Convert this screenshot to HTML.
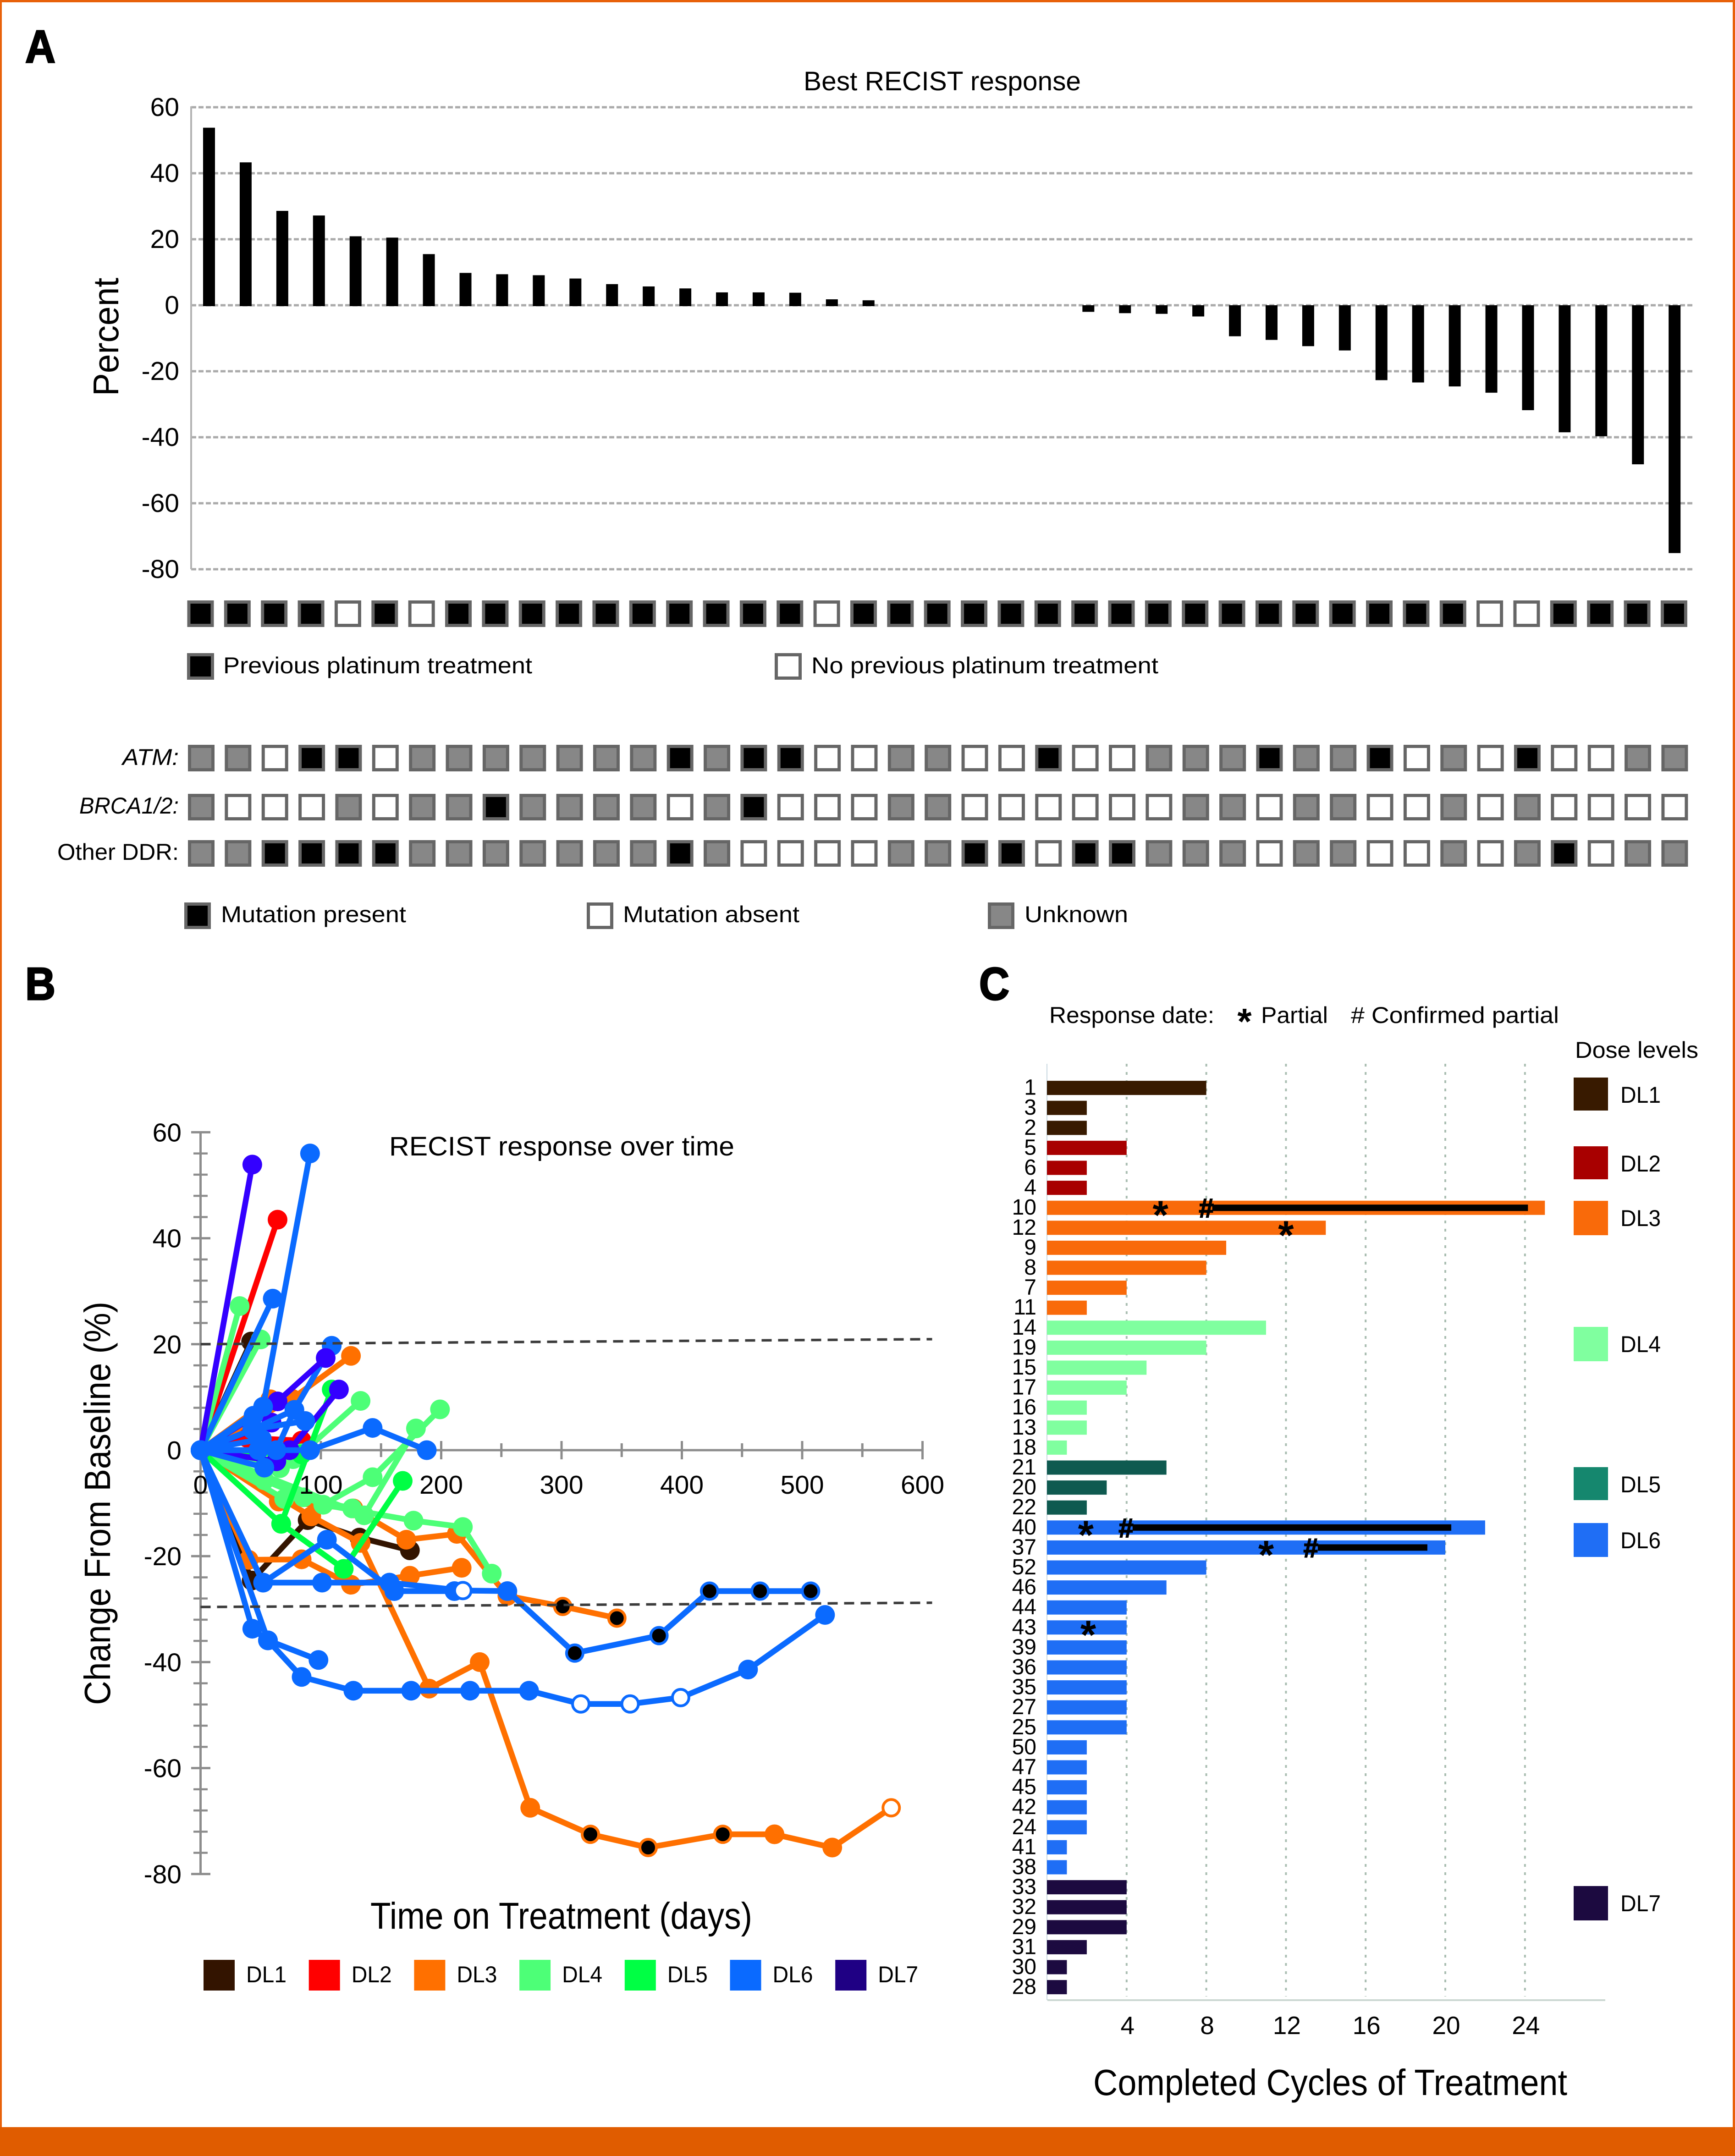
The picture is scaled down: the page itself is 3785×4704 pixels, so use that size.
<!DOCTYPE html>
<html lang="en">
<head>
<meta charset="utf-8">
<title>RECIST response chart</title>
<style>
html,body{margin:0;padding:0;background:#fff;}
svg{display:block;font-family:"Liberation Sans",sans-serif;}
text{fill:#000;}
.box{stroke:#666;stroke-width:7;}
.panel{stroke:#000;stroke-width:3;}
</style>
</head>
<body>
<svg id="fig" xmlns="http://www.w3.org/2000/svg" width="3785" height="4704" viewBox="0 0 3785 4704">
  <rect x="0" y="0" width="3785" height="4704" fill="#fff"/>
  <rect x="0" y="0" width="3785" height="5" fill="#e8610a"/>
  <rect x="0" y="0" width="4" height="4704" fill="#e8610a"/>
  <rect x="3780" y="0" width="5" height="4704" fill="#e8610a"/>
  <rect x="0" y="4641" width="3785" height="63" fill="#e05c00"/>

  <text class="panel" x="55" y="136" font-size="100" font-weight="bold" textLength="66" lengthAdjust="spacingAndGlyphs">A</text>
  <text class="panel" x="55" y="2181" font-size="100" font-weight="bold" textLength="66" lengthAdjust="spacingAndGlyphs">B</text>
  <text class="panel" x="2136" y="2181" font-size="100" font-weight="bold" textLength="66" lengthAdjust="spacingAndGlyphs">C</text>

  <text x="1753" y="197" font-size="58" textLength="605" lengthAdjust="spacingAndGlyphs">Best RECIST response</text>
  <text transform="translate(258,735) rotate(-90)" text-anchor="middle" font-size="78" textLength="258" lengthAdjust="spacingAndGlyphs">Percent</text>

  <g id="a-grid"></g>
  <g id="a-bars"></g>
  <g id="a-matrix"></g>

  <rect class="box" x="411.5" y="1428.5" width="52" height="51" fill="#000"/>
  <text x="487" y="1469" font-size="50" textLength="674" lengthAdjust="spacingAndGlyphs">Previous platinum treatment</text>
  <rect class="box" x="1693.5" y="1428.5" width="52" height="51" fill="#fff"/>
  <text x="1770" y="1469" font-size="50" textLength="757" lengthAdjust="spacingAndGlyphs">No previous platinum treatment</text>

  <text x="267" y="1669" font-size="50" font-style="italic" textLength="123" lengthAdjust="spacingAndGlyphs">ATM:</text>
  <text x="173" y="1775" font-size="50" font-style="italic" textLength="217" lengthAdjust="spacingAndGlyphs">BRCA1/2:</text>
  <text x="125" y="1876" font-size="50" textLength="265" lengthAdjust="spacingAndGlyphs">Other DDR:</text>

  <rect class="box" x="405.5" y="1972.5" width="51" height="51" fill="#000"/>
  <text x="482" y="2012" font-size="50" textLength="404" lengthAdjust="spacingAndGlyphs">Mutation present</text>
  <rect class="box" x="1283.5" y="1972.5" width="51" height="51" fill="#fff"/>
  <text x="1359" y="2012" font-size="50" textLength="385" lengthAdjust="spacingAndGlyphs">Mutation absent</text>
  <rect class="box" x="2158.5" y="1972.5" width="51" height="51" fill="#878787"/>
  <text x="2235" y="2012" font-size="50" textLength="226" lengthAdjust="spacingAndGlyphs">Unknown</text>

  <text x="849" y="2521" font-size="58" textLength="753" lengthAdjust="spacingAndGlyphs">RECIST response over time</text>
  <text transform="translate(240,3280) rotate(-90)" text-anchor="middle" font-size="80" textLength="880" lengthAdjust="spacingAndGlyphs">Change From Baseline (%)</text>
  <text x="808" y="4208" font-size="82" textLength="833" lengthAdjust="spacingAndGlyphs">Time on Treatment (days)</text>
  <g id="b-axes"></g>
  <g id="b-series"></g>
  <g id="b-refs"></g>
  <g id="b-labels"></g>
  <g id="b-legend"></g>

  <text x="2289" y="2232" font-size="50" textLength="360" lengthAdjust="spacingAndGlyphs">Response date:</text>
  <text x="2715" y="2256" text-anchor="middle" font-size="80" font-weight="bold">*</text>
  <text x="2751" y="2232" font-size="50" textLength="146" lengthAdjust="spacingAndGlyphs">Partial</text>
  <text x="2947" y="2232" font-size="50" textLength="454" lengthAdjust="spacingAndGlyphs"># Confirmed partial</text>
  <text x="3436" y="2308" font-size="50" textLength="269" lengthAdjust="spacingAndGlyphs">Dose levels</text>
  <g id="c-grid"></g>
  <g id="c-bars"></g>
  <g id="c-legend"></g>
  <text x="2385" y="4571" font-size="80" textLength="1034" lengthAdjust="spacingAndGlyphs">Completed Cycles of Treatment</text>
</svg>
<script>
/* ---------- Panel A data ---------- */
const waterfallValues = [53.8,43.3,28.6,27.2,20.9,20.5,15.5,9.8,9.4,9.1,8.1,6.4,5.7,5.1,3.9,3.9,3.8,1.8,1.5,0,0,0,0,0,-2,-2.4,-2.6,-3.4,-9.4,-10.5,-12.4,-13.7,-22.7,-23.4,-24.6,-26.5,-31.8,-38.5,-39.7,-48.2,-75.1];
const waterfallTicks = [60,40,20,0,-20,-40,-60,-80];
const platinumStatus = 'PPPPAPAPPPPPPPPPPAPPPPPPPPPPPPPPPPPAAPPPP'.split('');
const atmStatus      = 'UUAPPAUUUUUUUPUPPAAUUAAPAAUUUPUUPAUAPAAUU'.split('');
const brcaStatus     = 'UAAAUAUUPUUUUAUPAAAUUAAAAAAUUAUUAAUAUAAAA'.split('');
const otherDdrStatus = 'UUPPPPUUUUUUUPUAAAAUUPPAPPUUUAUUAAUAUPAUU'.split('');

/* ---------- Panel B data ---------- */
const xTickLabels = [0,100,200,300,400,500,600];
const yTickLabels = [60,40,20,0,-20,-40,-60,-80];
const refLevelsStart = [20,-29.6];
const refLevelsEnd = [20.95,-28.8];
const doseNames = ['DL1','DL2','DL3','DL4','DL5','DL6','DL7'];
const doseLineColors = ['#331400','#ff0000','#ff7000','#4dff77','#00ff44','#0a6aff','#3300ff'];
const legendColors = ['#331400','#ff0000','#ff7000','#4dff77','#00ff44','#0a6aff','#1f0084'];
const seriesDose = ['DL1','DL1','DL3','DL3','DL3','DL3','DL3','DL2','DL2','DL4','DL4','DL4','DL4','DL4','DL4','DL4','DL4','DL4','DL5','DL5','DL5','DL7','DL7','DL7','DL6','DL6','DL6','DL7','DL7','DL6','DL6','DL6','DL6','DL6','DL6','DL6','DL6','DL6','DL6','DL6','DL6'];
const seriesDays = [
 [0,42],[0,42.5,89,132,174],[0,58],[0,76,125],[0,40,84,125,174,217],
 [0,65,127,171,213,255,301,346],[0,92,133,190,232,274,324,372,434,477,525,574],
 [0,64],[0,39,84],[0,32.5],[0,50],[0,84,133],[0,53,102,177,218,242],[0,102,143,199],[0,136,179],[0,69.5,85.5,126],[0,66],[0,77],
 [0,67,119,168],[0,67,109],[0,84],[0,59],[0,63],[0,74,115],
 [0,52,91],[0,60],[0,63,78,109],[0,43],[0,64,104],
 [0,52],[0,44],[0,43,78],[0,43,87],[0,51],[0,48],[0,63,91,143,188],[0,53],
 [0,52,105,161,211],[0,52,101,157,218,255,311,381,423,465,507],
 [0,43,56,98],[0,56,84,127,175,224,273,316,357,399,455,519]
];
const seriesChange = [
 [0,20.5],[0,-24.6,-13.2,-16.5,-18.9],[0,9.6],[0,9.7,17.8],[0,-20.7,-20.6,-25.4,-23.7,-22.2],
 [0,-9.7,-11,-16.9,-15.8,-27.5,-29.5,-31.7],[0,-12.5,-17.5,-45,-40,-67.5,-72.5,-75,-72.5,-72.5,-75,-67.5],
 [0,43.5],[0,2.3,1.8],[0,27.2],[0,20.9],[0,-0.6,9.3],[0,-5.7,-10.3,-13.3,-14.5,-23.3],[0,-10.3,-5.1,7.7],[0,-12.3,4.1],[0,-9.2,-8.9,-11],[0,-3.4],[0,-1.7],
 [0,-13.9,-22.4,-5.8],[0,-13.9,11.45],[0,-0.8],[0,5.2],[0,-2.1],[0,0,11.45],
 [0,8.2,56],[0,28.6],[0,0,7.6,19.7],[0,53.9],[0,9.2,17.4],
 [0,8.2],[0,6.5],[0,3.9,7.6],[0,3.9,5.5],[0,2.1],[0,0],[0,0,0,4.2,0],[0,-3.3],
 [0,-25,-16.9,-26.6,-26.6],[0,-25,-25,-25,-26.5,-26.6,-38.3,-35,-26.6,-26.6,-26.6],
 [0,-33.7,-35.9,-39.6],[0,-35.9,-42.8,-45.4,-45.4,-45.4,-45.4,-47.9,-47.9,-46.7,-41.4,-31.1]
];
const blackMarkers = {5:[6,7],6:[6,7,8],38:[6,7,8,9,10]};
const openMarkers = {6:[11],38:[4],40:[7,8,9]};

/* ---------- Panel C data ---------- */
const patientIds = [1,3,2,5,6,4,10,12,9,8,7,11,14,19,15,17,16,13,18,21,20,22,40,37,52,46,44,43,39,36,35,27,25,50,47,45,42,24,41,38,33,32,29,31,30,28];
const completedCycles = [8,2,2,4,2,2,25,14,9,8,4,2,11,8,5,4,2,2,1,6,3,2,22,20,8,6,4,4,4,4,4,4,4,2,2,2,2,2,1,1,4,4,4,2,1,1];
const patientDose = [1,1,1,2,2,2,3,3,3,3,3,3,4,4,4,4,4,4,4,5,5,5,6,6,6,6,6,6,6,6,6,6,6,6,6,6,6,6,6,6,7,7,7,7,7,7];
const barColors = ['','#381a00','#a80000','#f96a0a','#80ff9f','#0f5a50','#1f6ef5','#1c0a40'];
const legendCColors = ['','#381a00','#a80000','#f96a0a','#80ff9f','#15876e','#1f6ef5','#1c0a40'];
const cycleTicks = [4,8,12,16,20,24];
const partialPatients = [10,12,40,37,43];
const partialCycles = [5.7,12,1.95,11,2.07];
const confirmedPatients = [10,40,37];
const confirmedCycles = [8,3.97,13.25];
const ongoingStart = [8.3,4.3,13.6];
const ongoingEnd = [24.15,20.3,19.1];
const legendCTop = [2351,2501,2620,2895,3201,3323,4115];
const legendCHeight = [72,72,75,75,72,74,75];

/* ---------- helpers ---------- */
const NS = 'http://www.w3.org/2000/svg';
function make(parent, tag, attrs, content) {
  const el = document.createElementNS(NS, tag);
  for (const k in attrs) el.setAttribute(k, attrs[k]);
  if (content !== undefined) el.textContent = content;
  document.getElementById(parent).appendChild(el);
  return el;
}
let el;

/* ---------- Panel A ---------- */
const ayScale = v => 666 - 7.2 * v;
const axScale = i => 456 + 79.93 * i;
waterfallTicks.forEach(t => {
  el = make('a-grid', 'line', {x1:417, x2:3696, y1:ayScale(t), y2:ayScale(t), stroke:'#aaaaaa', 'stroke-width':5, 'stroke-dasharray':'11 5'});
  
  
  el = make('a-grid', 'text', {x:391, y:ayScale(t) + 19, 'text-anchor':'end', 'font-size':57}, String(t));
  
  
});
el = make('a-grid', 'line', {x1:417, x2:417, y1:ayScale(60) - 2, y2:ayScale(-80), stroke:'#b3b3b3', 'stroke-width':4});


waterfallValues.forEach((v, i) => {
  if (v === 0) return;
  const top = Math.min(ayScale(v), ayScale(0));
  el = make('a-bars', 'rect', {x:axScale(i) - 13, y:top, width:26, height:Math.abs(ayScale(v) - ayScale(0)) + (v > 0 ? 2 : 0), fill:'#000'});
  
  
});
const statusFill = {P:'#000', A:'#fff', U:'#878787'};
const matrixRows = [
  {name:'platinum', data:platinumStatus, cy:1339, cx0:437.5},
  {name:'atm', data:atmStatus, cy:1654, cx0:439},
  {name:'brca', data:brcaStatus, cy:1761, cx0:439},
  {name:'other-ddr', data:otherDdrStatus, cy:1862, cx0:439}
];
matrixRows.forEach(r => {
  r.data.forEach((s, i) => {
    const cx = r.cx0 + 80.36 * i;
    el = make('a-matrix', 'rect', {class:'box', x:cx - 25.5, y:r.cy - 25.5, width:51, height:51, fill:statusFill[s]});
    
    
  });
});

/* ---------- Panel B ---------- */
const bx = d => 437.5 + 2.625 * d;
const by = v => 3164 - 11.56 * v;
for (let v = 60; v >= -80; v -= 4) {
  const major = v % 20 === 0;
  el = make('b-axes', 'line', {x1:major ? 417 : 422, x2:major ? 459 : 453, y1:by(v), y2:by(v), stroke:'#8c8c8c', 'stroke-width':major ? 5 : 4.5});
  
  
}
el = make('b-axes', 'line', {x1:bx(0), x2:bx(0), y1:by(60), y2:by(-80), stroke:'#8c8c8c', 'stroke-width':5});


el = make('b-axes', 'line', {x1:bx(0), x2:bx(600), y1:by(0), y2:by(0), stroke:'#8c8c8c', 'stroke-width':5});


for (let d = 50; d <= 600; d += 50) {
  const major = d % 100 === 0;
  el = make('b-axes', 'line', {x1:bx(d), x2:bx(d), y1:by(0) - (major ? 20 : 15), y2:by(0) + (major ? 20 : 15), stroke:'#8c8c8c', 'stroke-width':5});
  
  
}
seriesDays.forEach((days, s) => {
  const color = doseLineColors[doseNames.indexOf(seriesDose[s])];
  const change = seriesChange[s];
  const pts = days.map((d, i) => bx(d) + ',' + by(change[i])).join(' ');
  el = make('b-series', 'polyline', {points:pts, fill:'none', stroke:color, 'stroke-width':12.5, 'stroke-linejoin':'round'});
  
  
  days.forEach((d, i) => {
    const black = (blackMarkers[s] || []).includes(i);
    const open = (openMarkers[s] || []).includes(i);
    const special = black || open;
    const fillColor = black ? '#000' : (open ? '#fff' : color);
    el = make('b-series', 'circle', {cx:bx(d), cy:by(change[i]), r:special ? 18 : 21.5, fill:fillColor, stroke:color, 'stroke-width':special ? 6 : 0});
    
    
  });
});
refLevelsStart.forEach((lv, i) => {
  el = make('b-refs', 'line', {x1:bx(0), y1:by(lv), x2:bx(608), y2:by(refLevelsEnd[i]), stroke:'#3c3c3c', 'stroke-width':5.5, 'stroke-dasharray':'22 14'});
  
  
});
yTickLabels.forEach(t => {
  el = make('b-labels', 'text', {x:396, y:by(t) + 20, 'text-anchor':'end', 'font-size':57}, String(t));
  
  
});
xTickLabels.forEach(t => {
  el = make('b-labels', 'text', {x:bx(t), y:3259, 'text-anchor':'middle', 'font-size':57}, String(t));
  
  
});
doseNames.forEach((n, i) => {
  const left = 444 + 229.7 * i;
  el = make('b-legend', 'rect', {x:left, y:4276, width:68, height:67, fill:legendColors[i]});
  
  
  el = make('b-legend', 'text', {x:left + 93, y:4325, 'font-size':50, textLength:88, lengthAdjust:'spacingAndGlyphs'}, n);
  
  
});

/* ---------- Panel C ---------- */
const cx = c => 2284 + 43.45 * c;
const cy = i => 2373.6 + 43.6 * i;
cycleTicks.forEach(t => {
  el = make('c-grid', 'line', {x1:cx(t), x2:cx(t), y1:2321, y2:4356, stroke:'#a9bdb1', 'stroke-width':4, 'stroke-dasharray':'6 12'});
  
  
  el = make('c-grid', 'text', {x:cx(t) + 2, y:4438, 'text-anchor':'middle', 'font-size':55}, String(t));
  
  
});
el = make('c-grid', 'line', {x1:2284, x2:2284, y1:2321, y2:4364, stroke:'#c8d8e0', 'stroke-width':2});


el = make('c-grid', 'line', {x1:2285, x2:3502, y1:4364, y2:4364, stroke:'#ccd8d2', 'stroke-width':4});


patientIds.forEach((id, i) => {
  el = make('c-bars', 'rect', {x:cx(0), y:cy(i) - 15.5, width:cx(completedCycles[i]) - cx(0), height:31, fill:barColors[patientDose[i]]});
  
  
  el = make('c-bars', 'text', {x:2261, y:cy(i) + 15, 'text-anchor':'end', 'font-size':48}, String(id));
  
  
});
confirmedPatients.forEach((p, i) => {
  const row = patientIds.indexOf(p);
  el = make('c-bars', 'rect', {x:cx(ongoingStart[i]), y:cy(row) - 7, width:cx(ongoingEnd[i]) - cx(ongoingStart[i]), height:14, fill:'#000'});
  
  
  el = make('c-bars', 'text', {x:cx(confirmedCycles[i]), y:cy(row) + 21, 'text-anchor':'middle', 'font-size':58, 'font-weight':'bold', stroke:'#000', 'stroke-width':2}, '#');
  
  
});
partialPatients.forEach((p, i) => {
  const row = patientIds.indexOf(p);
  el = make('c-bars', 'text', {x:cx(partialCycles[i]), y:cy(row) + 46, 'text-anchor':'middle', 'font-size':88, 'font-weight':'bold'}, '*');
  
  
});
doseNames.forEach((n, i) => {
  el = make('c-legend', 'rect', {x:3433, y:legendCTop[i], width:75, height:legendCHeight[i], fill:legendCColors[i + 1]});
  
  
  el = make('c-legend', 'text', {x:3535, y:legendCTop[i] + 55, 'font-size':50, textLength:88, lengthAdjust:'spacingAndGlyphs'}, n);
  
  
});
</script>
</body>
</html>
